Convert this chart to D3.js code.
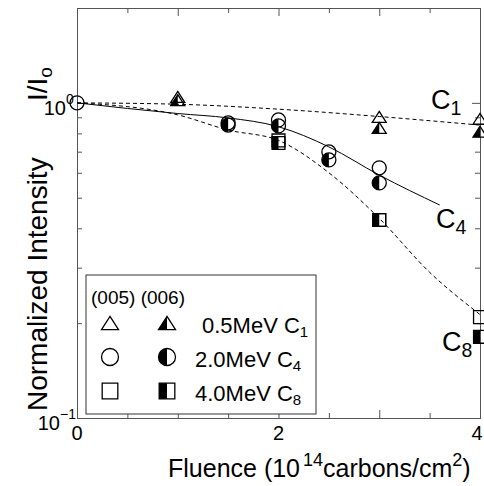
<!DOCTYPE html>
<html>
<head>
<meta charset="utf-8">
<script src="https://cdn.jsdelivr.net/npm/d3@7"></script>
<style>
  body { margin: 0; background: #fff; }
  svg { font-family: "Liberation Sans", Arial, sans-serif; }
  .axis path, .axis line { stroke: #555; stroke-width: 1; }
</style>
</head>
<body>
<div id="chart"></div>
<script>
// Starting point shared by all three data sets
let originX = [0];
let originY = [1.0];

// 0.5 MeV C1: (005) open triangles, (006) half-filled triangles
let c1X = [1, 3, 4];
let c1Open = [1.045, 0.903, 0.89];
let c1Half = [1.02, 0.833, 0.81];
let c1FitX = [0, 1, 2, 3, 4];
let c1Fit = [1.0, 0.99, 0.955, 0.905, 0.85];

// 2.0 MeV C4: (005) open circles, (006) half-filled circles
let c4X = [1.5, 2, 2.5, 3];
let c4Open = [0.864, 0.883, 0.699, 0.622];
let c4Half = [0.85, 0.845, 0.659, 0.557];
let c4FitX = [0, 1, 1.5, 2, 2.5, 3, 3.6];
let c4Fit = [1.0, 0.925, 0.896, 0.84, 0.725, 0.59, 0.474];

// 4.0 MeV C8: (005) open squares, (006) half-filled squares
let c8X = [2, 3, 4];
let c8Open = [0.76, 0.425, 0.209];
let c8Half = [0.746, 0.425, 0.181];
let c8FitX = [0, 1, 1.5, 2, 2.5, 3, 3.5, 4];
let c8Fit = [1.0, 0.916, 0.82, 0.76, 0.6, 0.43, 0.29, 0.213];

let xMajor = [0, 1, 2, 3, 4];
let xMinor = [0.5, 1.5, 2.5, 3.5];
let xLabels = [0, 2, 4];
let yMinor = [0.2, 0.3, 0.4, 0.5, 0.6, 0.7, 0.8, 0.9];
let yMajor = [0.1, 1];

let width = 484;
let height = 486;
let L = 77, R = 480, T = 8, B = 418;

let svg = d3.select('#chart').append('svg')
    .attr('width', width)
    .attr('height', height);

let x = d3.scaleLinear().domain([0, 4]).range([L, R]);
let y = d3.scaleLog().domain([0.1, 2]).range([B, T]);

// Frame and inward ticks on all four sides
function addAxes() {
  let g = svg.append('g').attr('class', 'axis');
  g.append('g').attr('transform', `translate(0,${B})`)
      .call(d3.axisBottom(x).tickValues(xMajor).tickSize(-8).tickFormat(''));
  g.append('g').attr('transform', `translate(0,${B})`)
      .call(d3.axisBottom(x).tickValues(xMinor).tickSize(-5).tickFormat(''));
  g.append('g').attr('transform', `translate(0,${T})`)
      .call(d3.axisTop(x).tickValues(xMajor).tickSize(-8).tickFormat(''));
  g.append('g').attr('transform', `translate(0,${T})`)
      .call(d3.axisTop(x).tickValues(xMinor).tickSize(-5).tickFormat(''));
  g.append('g').attr('transform', `translate(${L},0)`)
      .call(d3.axisLeft(y).tickValues(yMajor).tickSize(-8).tickFormat(''));
  g.append('g').attr('transform', `translate(${L},0)`)
      .call(d3.axisLeft(y).tickValues(yMinor).tickSize(-5).tickFormat(''));
  g.append('g').attr('transform', `translate(${R},0)`)
      .call(d3.axisRight(y).tickValues(yMajor).tickSize(-8).tickFormat(''));
  g.append('g').attr('transform', `translate(${R},0)`)
      .call(d3.axisRight(y).tickValues(yMinor).tickSize(-5).tickFormat(''));
  g.selectAll('.domain').attr('stroke', '#555');

  // x tick labels
  svg.append('g').selectAll('text').data(xLabels).enter().append('text')
      .attr('x', d => d === 4 ? x(d) - 3 : x(d))
      .attr('y', 440)
      .attr('text-anchor', 'middle')
      .attr('font-size', 20)
      .text(d => d);

  // y tick labels with exponents
  let yl = svg.append('g').selectAll('g').data(yMajor).enter().append('g');
  yl.append('text')
      .attr('x', d => d === 1 ? 66 : 60)
      .attr('y', d => y(d) + 12)
      .attr('text-anchor', 'end')
      .attr('font-size', 20)
      .text('10');
  yl.append('text')
      .attr('x', d => d === 1 ? 66 : 60)
      .attr('y', d => y(d) + 1)
      .attr('font-size', 14)
      .text(d => d === 1 ? '0' : '\u22121');
}

addAxes();

// Fit curves
let lineGen = d3.line().x(d => x(d[0])).y(d => y(d[1])).curve(d3.curveMonotoneX);
function addCurve(xs, ys, dashed) {
  svg.append('path')
      .datum(xs.map((v, i) => [v, ys[i]]))
      .attr('d', lineGen)
      .attr('fill', 'none')
      .attr('stroke', '#000')
      .attr('stroke-width', 1)
      .attr('stroke-dasharray', dashed ? '4,3' : null);
}
addCurve(c1FitX, c1Fit, true);
addCurve(c4FitX, c4Fit, false);
addCurve(c8FitX, c8Fit, true);

// Marker drawing: shape is 'tri', 'circ' or 'sq'; half fills the left half black
function marker(g, shape, half, cx, cy, s) {
  let r = s / 2;
  let outline, left;
  if(shape === 'circ') {
    outline = `M${cx - r},${cy}A${r},${r} 0 1,1 ${cx + r},${cy}A${r},${r} 0 1,1 ${cx - r},${cy}Z`;
    left = `M${cx},${cy - r}A${r},${r} 0 0,0 ${cx},${cy + r}Z`;
  } else if(shape === 'sq') {
    let h = r * 0.92;
    outline = `M${cx - h},${cy - h}H${cx + h}V${cy + h}H${cx - h}Z`;
    left = `M${cx - h},${cy - h}H${cx}V${cy + h}H${cx - h}Z`;
  } else {
    let w = r, ht = s * 0.78;
    outline = `M${cx},${cy - ht / 2}L${cx + w},${cy + ht / 2}L${cx - w},${cy + ht / 2}Z`;
    left = `M${cx},${cy - ht / 2}L${cx},${cy + ht / 2}L${cx - w},${cy + ht / 2}Z`;
  }
  if(half) {
    g.append('path').attr('d', left).attr('fill', '#000');
  }
  g.append('path').attr('d', outline)
      .attr('fill', 'none')
      .attr('stroke', '#000')
      .attr('stroke-width', 1.3);
}

function addSeries(shape, xs, ys, half) {
  let g = svg.append('g');
  xs.forEach((v, i) => marker(g, shape, half, x(v), y(ys[i]), 14));
}
addSeries('circ', originX, originY, false);
addSeries('tri', c1X, c1Open, false);
addSeries('tri', c1X, c1Half, true);
addSeries('circ', c4X, c4Open, false);
addSeries('circ', c4X, c4Half, true);
addSeries('sq', c8X, c8Open, false);
addSeries('sq', c8X, c8Half, true);

// Curve labels
function subLabel(px, py, main, sub, size) {
  let t = svg.append('text').attr('x', px).attr('y', py).attr('font-size', size);
  t.append('tspan').text(main);
  t.append('tspan').attr('font-size', size * 0.72).attr('dy', size * 0.22).text(sub);
  return t;
}
subLabel(431, 109, 'C', '1', 27);
subLabel(436, 228, 'C', '4', 27);
subLabel(442, 351, 'C', '8', 27);

// Legend
let leg = svg.append('g');
leg.append('rect')
    .attr('x', 86).attr('y', 275)
    .attr('width', 230).attr('height', 139)
    .attr('fill', '#fff')
    .attr('stroke', '#333')
    .attr('stroke-width', 1);
leg.append('text').attr('x', 91).attr('y', 304).attr('font-size', 19).text('(005) (006)');
let legShapes = ['tri', 'circ', 'sq'];
let legNames = ['0.5MeV C', '2.0MeV C', '4.0MeV C'];
let legSubs = ['1', '4', '8'];
let legY = [323, 357, 391];
legShapes.forEach((s, i) => {
  marker(leg, s, false, 110, legY[i], 17);
  marker(leg, s, true, 167, legY[i], 17);
  let t = leg.append('text').attr('x', i === 0 ? 202 : 195).attr('y', legY[i] + 10).attr('font-size', 22);
  t.append('tspan').text(legNames[i]);
  t.append('tspan').attr('font-size', 15).attr('dy', 4).text(legSubs[i]);
});

// Axis titles
let xt = svg.append('text').attr('x', 168).attr('y', 477).attr('font-size', 25);
xt.append('tspan').text('Fluence (10');
xt.append('tspan').attr('font-size', 18).attr('dy', -11).attr('dx', 3).text('14');
xt.append('tspan').attr('dy', 11).text('carbons/cm');
xt.append('tspan').attr('font-size', 18).attr('dy', -11).text('2');
xt.append('tspan').attr('dy', 11).text(')');

svg.append('text')
    .attr('transform', 'translate(47,411) rotate(-90)')
    .attr('font-size', 28)
    .text('Normalized Intensity');
let yt = svg.append('text')
    .attr('transform', 'translate(47,101) rotate(-90)')
    .attr('font-size', 28);
yt.append('tspan').text('I/I');
yt.append('tspan').attr('font-size', 19).attr('dy', 5).text('o');
</script>
</body>
</html>
